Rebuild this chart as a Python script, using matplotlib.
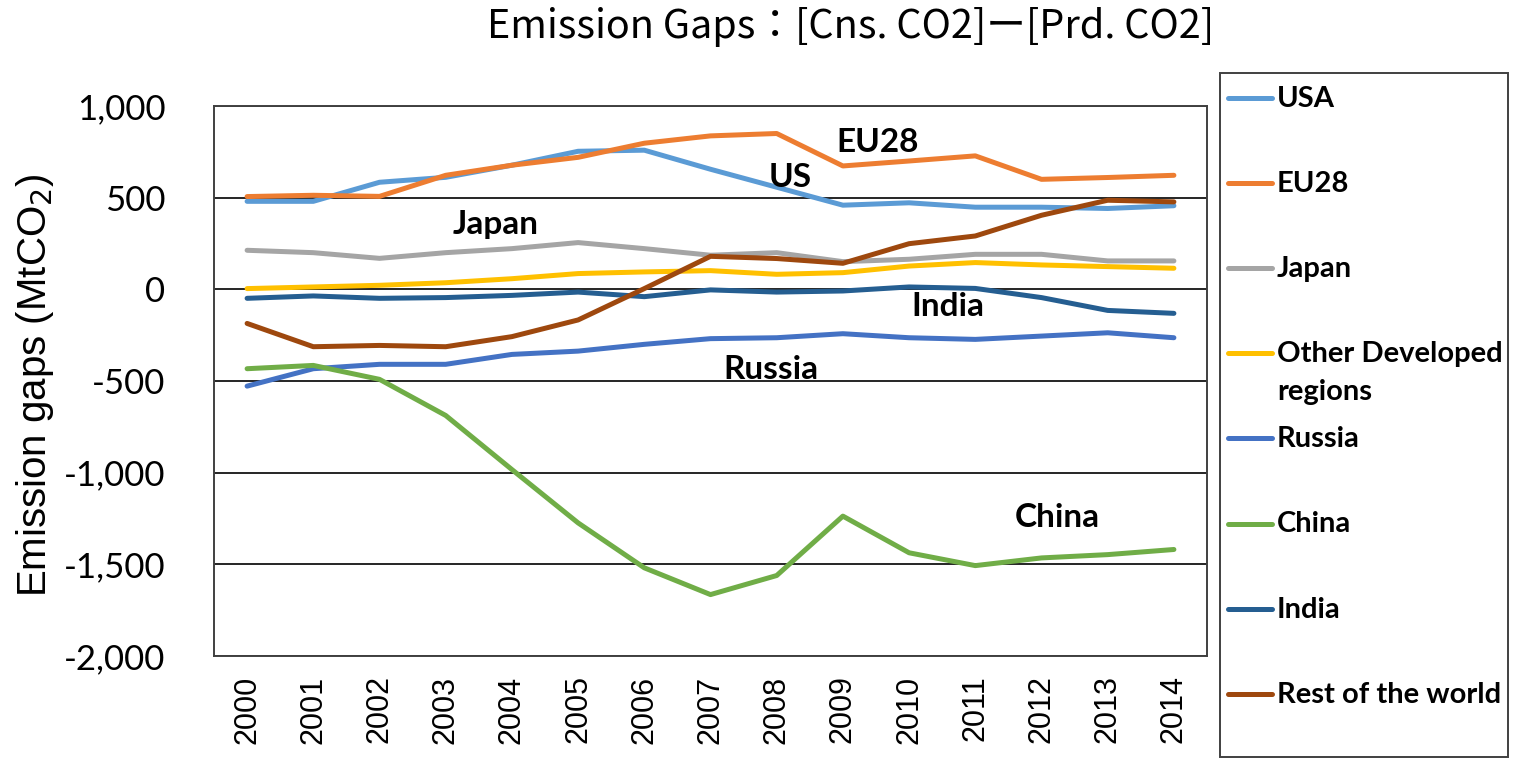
import matplotlib
matplotlib.use("Agg")
import matplotlib.pyplot as plt
from matplotlib.lines import Line2D
from matplotlib.patches import Rectangle
from matplotlib.ticker import FuncFormatter

years = [str(y) for y in range(2000, 2015)]

usa = [480, 480, 584, 611, 677, 753, 759, 655, 557, 459, 472, 448, 448, 441, 456]
eu28 = [506, 513, 507, 622, 677, 720, 797, 837, 850, 673, 700, 728, 600, 610, 622]
japan = [213, 200, 169, 200, 222, 255, 222, 186, 200, 151, 164, 191, 191, 155, 155]
other_dev = [4, 13, 22, 36, 58, 86, 95, 102, 82, 91, 127, 146, 133, 124, 115]
russia = [-528, -433, -409, -409, -355, -337, -300, -269, -264, -242, -264, -273, -255, -237, -264]
china = [-433, -415, -491, -688, -983, -1274, -1519, -1665, -1561, -1237, -1437, -1507, -1465, -1447, -1419]
india = [-49, -36, -49, -45, -33, -15, -40, -3, -15, -9, 13, 5, -45, -115, -131]
rest_world = [-186, -313, -306, -313, -258, -167, 4, 180, 168, 142, 249, 291, 404, 486, 477]

series_names = ["USA", "EU28", "Japan", "Other Developed\nregions", "Russia", "China", "India", "Rest of the world"]
series_values = [usa, eu28, japan, other_dev, russia, china, india, rest_world]
series_colors = ["#5B9BD5", "#ED7D31", "#A5A5A5", "#FFC000", "#4472C4", "#70AD47", "#255E91", "#9E480E"]

# inline labels: (text, x index, y value)
inline_labels = [("EU28", 9.53, 800), ("US", 8.2, 611), ("Japan", 3.75, 355),
                 ("India", 10.59, -93), ("Russia", 7.91, -437), ("China", 12.24, -1245)]

W, H = 1520, 770
fig = plt.figure(figsize=(W / 100, H / 100), dpi=100)
ax = fig.add_axes([214 / W, 1 - 656 / H, 993 / W, 550 / H])

x = list(range(len(years)))
for name, vals, col in zip(series_names, series_values, series_colors):
    ax.plot(x, vals, color=col, lw=3.6, solid_capstyle="round", solid_joinstyle="round", zorder=3)

ax.set_xlim(-0.5, len(years) - 0.5)
ax.set_ylim(-2000, 1000)
ax.set_yticks(range(-2000, 1001, 500))
ax.yaxis.set_major_formatter(FuncFormatter(lambda v, p: f"{int(v):,}"))
ax.set_xticks(x)
ax.set_xticklabels(years, rotation=90)
ax.grid(axis="y", color="#000000", lw=1.2, zorder=1)
ax.set_axisbelow(True)
for s in ax.spines.values():
    s.set_color("#404040")
    s.set_linewidth(1.4)
ax.tick_params(axis="x", length=0, labelsize=22, pad=14)
ax.tick_params(axis="y", length=0, labelsize=25, pad=35)
for lab in ax.get_xticklabels():
    lab.set_fontfamily("Liberation Sans")
for lab in ax.get_yticklabels():
    lab.set_fontfamily("Lato")
ax.set_ylabel("Emission gaps (MtCO$_2$)", fontsize=29, fontfamily="Liberation Sans")
ax.yaxis.set_label_coords(56 / W, 0.5, transform=fig.transFigure)

for txt, xi, yv in inline_labels:
    ax.text(xi, yv, txt, fontsize=24, fontweight="bold", fontfamily="Lato",
            ha="center", va="center", zorder=4)

fig.text(851 / W, 1 - 27 / H, "Emission Gaps：[Cns. CO2]ー[Prd. CO2]",
         fontsize=28.5, fontfamily=["Noto Sans CJK JP", "DejaVu Sans"], ha="center", va="center")

# legend panel drawn in figure pixels
fig.add_artist(Rectangle((1220 / W, 1 - 757 / H), 288 / W, 684 / H, transform=fig.transFigure,
                         fill=False, edgecolor="#404040", lw=1.4))
for i, (name, col) in enumerate(zip(series_names, series_colors)):
    yp = 98 + 85.1 * i
    fig.add_artist(Line2D([1228 / W, 1272 / W], [1 - yp / H, 1 - yp / H], transform=fig.transFigure,
                          color=col, lw=3.6, solid_capstyle="round"))
    fig.text(1277 / W, 1 - (yp - 12) / H, name, fontsize=21, fontweight="bold", fontfamily="Lato",
             ha="left", va="top", linespacing=1.55)

fig.savefig("out.png", dpi=100)
